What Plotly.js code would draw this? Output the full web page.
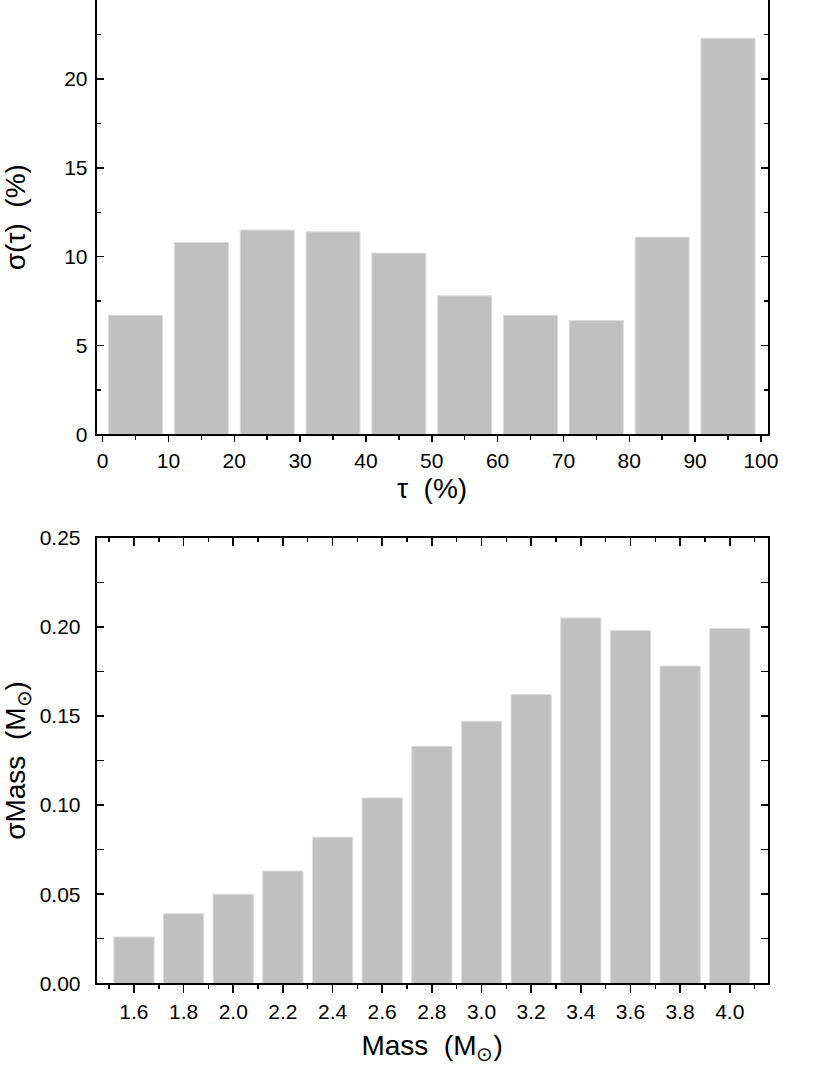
<!DOCTYPE html>
<html>
<head>
<meta charset="utf-8">
<script src="https://cdn.plot.ly/plotly-3.0.1.min.js"></script>
<style>html,body{margin:0;padding:0;background:#fff;}#chart{width:830px;height:1075px;}</style>
</head>
<body>
<div id="chart"></div>
<script>
// Top panel: sigma(tau) per tau bin
const tauCenters = [5, 15, 25, 35, 45, 55, 65, 75, 85, 95];
const sigmaTau = [6.7, 10.8, 11.5, 11.4, 10.2, 7.8, 6.7, 6.4, 11.1, 22.3];
// Bottom panel: sigma Mass per mass bin
const massCenters = [1.6, 1.8, 2.0, 2.2, 2.4, 2.6, 2.8, 3.0, 3.2, 3.4, 3.6, 3.8, 4.0];
const sigmaMass = [0.026, 0.039, 0.050, 0.063, 0.082, 0.104, 0.133, 0.147, 0.162, 0.205, 0.198, 0.178, 0.199];
const tauTicks = [0, 10, 20, 30, 40, 50, 60, 70, 80, 90, 100];
const massTicks = ['1.6','1.8','2.0','2.2','2.4','2.6','2.8','3.0','3.2','3.4','3.6','3.8','4.0'];
const massMinor = [1.5, 1.7, 1.9, 2.1, 2.3, 2.5, 2.7, 2.9, 3.1, 3.3, 3.5, 3.7, 3.9, 4.1];

const W = 830, H = 1075;
const xDom = [96.7 / W, 767.5 / W];
const yTop = [1 - 434.3 / H, 1];
const yBot = [1 - 983.3 / H, 1 - 537.7 / H];
const FONT = 'Liberation Sans, Arial, sans-serif';
const barColor = '#c0c0c0';
const edge = '#dcdcdc';
const TICK = 21, TITLE = 28;

const traces = [
  {type: 'bar', x: tauCenters, y: sigmaTau, width: 8.2, xaxis: 'x', yaxis: 'y',
   marker: {color: barColor, line: {color: edge, width: 1}}, hoverinfo: 'skip'},
  {type: 'bar', x: massCenters, y: sigmaMass, width: 0.162, xaxis: 'x2', yaxis: 'y2',
   marker: {color: barColor, line: {color: edge, width: 1}}, hoverinfo: 'skip'},
  // invisible helper so the mirrored top axis of the lower panel is drawn
  {type: 'scatter', mode: 'markers', x: massCenters, y: sigmaMass, xaxis: 'x3', yaxis: 'y2',
   marker: {opacity: 0, size: 1}, hoverinfo: 'skip'}
];

const axCommon = {
  showline: true, linecolor: '#000', linewidth: 2, showgrid: false, zeroline: false,
  tickcolor: '#000', tickwidth: 1.5, ticklen: 7,
  tickfont: {family: FONT, size: TICK, color: '#000'}, automargin: false
};
const titleFont = {family: FONT, size: TITLE, color: '#000'};
const minorBase = {tickwidth: 1.5, tickcolor: '#000', ticklen: 4};

const layout = {
  width: W, height: H,
  margin: {l: 0, r: 0, t: 0, b: 0},
  paper_bgcolor: '#fff', plot_bgcolor: '#fff',
  showlegend: false, bargap: 0,
  font: {family: FONT, color: '#000'},
  xaxis: Object.assign({}, axCommon, {
    domain: xDom, anchor: 'y', range: [-0.9, 101.0],
    tickmode: 'array', tickvals: tauTicks, ticktext: tauTicks.map(String),
    ticks: 'outside', ticklen: 6,
    minor: Object.assign({}, minorBase, {ticks: 'outside', dtick: 5, tick0: 5}),
    title: {text: '\u03c4\u00a0\u00a0(%)', font: titleFont, standoff: 8}
  }),
  yaxis: Object.assign({}, axCommon, {
    domain: yTop, anchor: 'x', range: [0, 24.45],
    tickmode: 'linear', tick0: 0, dtick: 5,
    ticks: 'inside', mirror: 'allticks', ticklabelstandoff: 3,
    minor: Object.assign({}, minorBase, {ticks: 'inside', dtick: 2.5}),
    title: {text: '\u03c3(\u03c4)\u00a0\u00a0(%)', font: titleFont, standoff: 30}
  }),
  xaxis2: Object.assign({}, axCommon, {
    domain: xDom, anchor: 'y2', range: [1.45, 4.152],
    tickmode: 'array', tickvals: massCenters, ticktext: massTicks,
    ticks: 'outside', ticklen: 8,
    minor: Object.assign({}, minorBase, {ticks: 'outside', tickmode: 'array', tickvals: massMinor}),
    title: {text: 'Mass\u00a0\u00a0(M<sub>\u2299</sub>)', font: titleFont, standoff: 14}
  }),
  xaxis3: Object.assign({}, axCommon, {
    domain: xDom, anchor: 'y2', overlaying: 'x2', side: 'top', range: [1.45, 4.152],
    tickmode: 'array', tickvals: massCenters, showticklabels: false,
    ticks: 'inside', ticklen: 8,
    minor: Object.assign({}, minorBase, {ticks: 'inside', tickmode: 'array', tickvals: massMinor})
  }),
  yaxis2: Object.assign({}, axCommon, {
    domain: yBot, anchor: 'x2', range: [0, 0.25],
    tickmode: 'linear', tick0: 0, dtick: 0.05, tickformat: '.2f',
    ticks: 'inside', mirror: 'allticks', ticklabelstandoff: 10,
    minor: Object.assign({}, minorBase, {ticks: 'inside', dtick: 0.025}),
    title: {text: '\u03c3Mass\u00a0\u00a0(M<sub>\u2299</sub>)', font: titleFont, standoff: 10}
  })
};

Plotly.newPlot('chart', traces, layout, {staticPlot: true, displayModeBar: false});
</script>
</body>
</html>
